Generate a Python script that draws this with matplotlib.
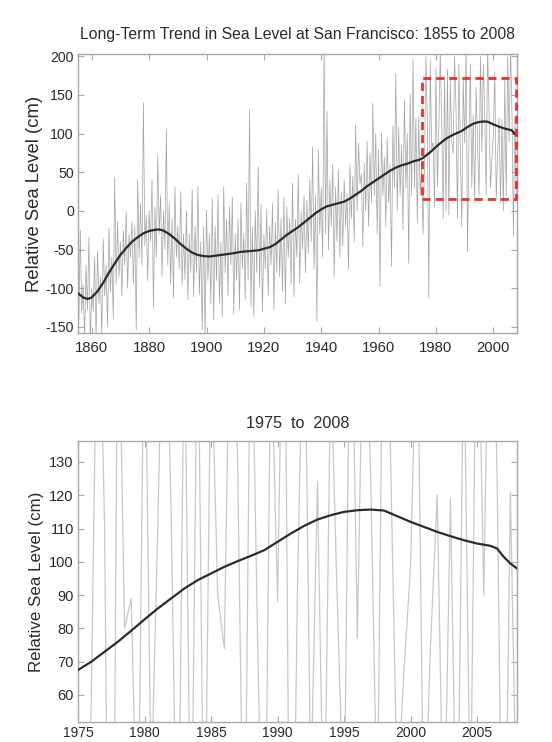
import numpy as np
import matplotlib
matplotlib.use("Agg")
import matplotlib.pyplot as plt
from matplotlib.patches import Rectangle

plt.rcParams['font.family'] = ['Liberation Sans', 'DejaVu Sans']
plt.rcParams['axes.unicode_minus'] = False

# ---- data -------------------------------------------------------------
# semi-annual samples of relative sea level (cm), starting 1855.0
sea_start = 1855.0
sea_step = 0.5
sea_level = [
    -80, -140, -25, -132, -95, -165, -70, -128, -34, -170,      # 1855-59
    -100, -130, -60, -165, -51, -120, -85, -160, -36, -110,     # 1860-64
    -70, -150, -22, -105, -60, -140, 43, -95, -14, -85,         # 1865-69
    -40, -110, -25, -70, -1, -100, -30, -60, -14, -95,          # 1870-74
    -20, -154, 40, -60, 10, -70, 140, -45, -5, -90,             # 1875-79
    0, -40, 40, -126, 5, -60, 72, -30, 20, -85,                 # 1880-84
    0, -50, 105, -70, 10, -95, -10, -113, 31, -60,              # 1885-89
    -20, -75, 25, -95, -30, -89, 0, -115, -30, -80,             # 1890-94
    27, -111, -20, -80, 31, -108, -40, -154, -20, -165,         # 1895-99
    1, -90, -30, -120, 16, -141, -20, -90, 21, -120,            # 1900-04
    -40, -137, 31, -80, -10, -110, 5, -70, 18, -133,            # 1905-09
    -30, -90, -10, -128, 10, -75, -30, -115, 36, -90,           # 1910-14
    131, -124, -20, -137, 0, -80, 57, -100, 9, -130,            # 1915-19
    -30, -75, 1, -110, -20, -70, 10, -128, -15, -80,            # 1920-24
    27, -85, -10, -105, 18, -120, 5, -60, -10, -95,             # 1925-29
    36, -111, -11, -60, 47, -94, 0, -50, 20, -80,               # 1930-34
    14, -55, 40, -40, 83, -75, 20, -143, 79, -30,               # 1935-39
    30, -60, 215, -30, 129, -50, 40, -20, 60, -85,              # 1940-44
    31, -40, 53, -60, 25, -45, 40, -20, 23, -76,                # 1945-49
    60, -10, 45, -40, 111, 0, 88, 35, 48, -46,                  # 1950-54
    62, 0, 90, -20, 75, 10, 139, 20, 100, -30,                  # 1955-59
    80, -98, 101, 20, 70, -20, 95, 10, 60, -72,                 # 1960-64
    110, 30, 178, 0, 109, 20, 85, -24, 144, 30,                 # 1965-69
    100, -68, 152, 20, 196, 30, 120, -16, 122, 20,              # 1970-74
    56, -30, 59, 200, 111, -113, 195, 80, 89, 5,                # 1975-79
    185, 30, 111, 205, 115, -10, 175, 0, 183, -5,               # 1980-84
    170, 90, 74, 200, 130, -10, 190, 77, -21, 170,              # 1985-89
    88, 210, -53, 93, 190, 30, 124, 10, 160, 87,                # 1990-94
    20, 200, 77, 190, 126, 20, 210, 131, 30, 67,                # 1995-99
    99, 180, 14, 75, 120, 10, 119, 0, 170, 20,                  # 2000-04
    200, 90, 210, 127, -33, 121,                                # 2005-07
    16,                                                         # 2008
]

# long-term trend (smoothed curve)
trend_years = [1855, 1857, 1858.5, 1860, 1862, 1864, 1866, 1868, 1870, 1872,
               1874, 1876, 1878, 1880, 1882, 1883.5, 1885, 1887, 1889, 1891,
               1893, 1895, 1897, 1899, 1901, 1903, 1906, 1909, 1912, 1915,
               1918, 1920, 1922, 1924, 1926, 1928, 1930, 1932, 1934, 1936,
               1938, 1940, 1942, 1944, 1946, 1948, 1950, 1952, 1954, 1956,
               1958, 1960, 1962, 1964, 1966, 1968, 1970, 1972, 1974,
               1975, 1976, 1977, 1978, 1979, 1980, 1981, 1982, 1983, 1984,
               1985, 1986, 1987, 1988, 1989, 1990, 1991, 1992, 1993, 1994,
               1995, 1996, 1997, 1998, 1999, 2000, 2001, 2002, 2003, 2004,
               2005, 2006, 2006.5, 2007, 2007.5, 2008]
trend_vals = [-106, -112, -114, -112, -104, -93, -80, -68, -57, -48,
              -40, -34, -29, -26, -24.5, -24, -25.5, -30, -36, -43,
              -49, -54, -57, -58.5, -59, -58, -56.5, -55, -53, -52,
              -51, -49, -47, -43, -37, -31, -26, -21, -15, -9,
              -3, 2, 6, 8, 10, 12, 16, 21, 26, 32,
              37, 42, 47, 52, 56, 59, 61, 64, 66,
              67.5, 70, 73, 76, 79.3, 82.7, 86, 89, 92, 94.5,
              96.5, 98.5, 100.2, 101.8, 103.5, 106, 108.5, 110.8, 112.7, 114,
              115, 115.5, 115.7, 115.4, 113.7, 112, 110.5, 109, 107.7, 106.5,
              105.5, 104.8, 104, 101.5, 99.5, 98]

# zoom box (years, cm)
box_x = [1975, 2008]
box_y = [16, 172]

top_xticks = [1860, 1880, 1900, 1920, 1940, 1960, 1980, 2000]
top_yticks = [-150, -100, -50, 0, 50, 100, 150, 200]
bot_xticks = [1975, 1980, 1985, 1990, 1995, 2000, 2005]
bot_yticks = [60, 70, 80, 90, 100, 110, 120, 130]

# ---- plot -------------------------------------------------------------
sea_t = sea_start + sea_step * np.arange(len(sea_level))

fig = plt.figure(figsize=(5.52, 7.42), dpi=100)
ax1 = fig.add_axes([0.1413, 0.5512, 0.7953, 0.3760])
ax2 = fig.add_axes([0.1413, 0.0270, 0.7953, 0.3787])

spine_c = '#a8a8a8'
txt_c = '#2a2a2a'

def style(ax, xfs, yfs, xpad=3):
    for s in ax.spines.values():
        s.set_color(spine_c)
        s.set_linewidth(1.0)
    ax.tick_params(direction='in', length=4, width=0.8, color=spine_c,
                   top=True, right=True, labelcolor=txt_c)
    ax.tick_params(axis='x', labelsize=xfs, pad=xpad)
    ax.tick_params(axis='y', labelsize=yfs, pad=3)

# top panel
ax1.plot(sea_t, sea_level, color='#a2a2a2', lw=0.5, zorder=2)
ax1.plot(trend_years, trend_vals, color='#2b2b2b', lw=1.6, zorder=3)
ax1.add_patch(Rectangle((box_x[0], box_y[0]), box_x[1] - box_x[0],
                        box_y[1] - box_y[0], fill=False,
                        edgecolor='#e8312f', lw=2.0,
                        linestyle=(0, (2.9, 1.8)), zorder=4, clip_on=False))
ax1.set_xlim(1855.2, 2008.25)
ax1.set_ylim(-158, 203)
ax1.set_xticks(top_xticks)
ax1.set_yticks(top_yticks)
style(ax1, 10.7, 10.2, xpad=6)
ax1.set_ylabel('Relative Sea Level (cm)', fontsize=13.3, color=txt_c, labelpad=2)
ax1.set_title('Long-Term Trend in Sea Level at San Francisco: 1855 to 2008',
              fontsize=11.3, color=txt_c, pad=11)

# bottom panel
ax2.plot(sea_t, sea_level, color='#c8c8c8', lw=0.9, zorder=2)
ax2.plot(trend_years, trend_vals, color='#2b2b2b', lw=1.6, zorder=3)
ax2.set_xlim(1975, 2008)
ax2.set_ylim(51.9, 136.3)
ax2.set_xticks(bot_xticks)
ax2.set_yticks(bot_yticks)
style(ax2, 10.0, 10.5)
ax2.set_ylabel('Relative Sea Level (cm)', fontsize=12.2, color=txt_c, labelpad=4)
ax2.set_title('1975  to  2008', fontsize=11.6, color=txt_c, pad=9)

fig.savefig('out.png', dpi=100)
